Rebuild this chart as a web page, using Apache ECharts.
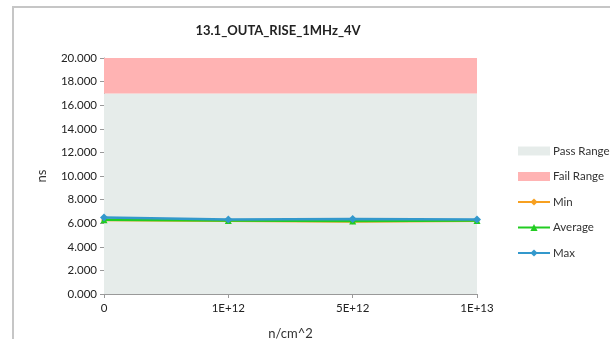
<!DOCTYPE html>
<html><head><meta charset="utf-8">
<script src="https://cdn.jsdelivr.net/npm/echarts@6/dist/echarts.min.js"></script>
<style>html,body{margin:0;padding:0;background:#fff}#c{width:610px;height:357px}</style>
</head><body><div id="c"></div>
<script>
const categories = ['0', '1E+12', '5E+12', '1E+13'];
const passRange = [17, 17, 17, 17];
const failRange = [3, 3, 3, 3];
const minVals = [6.27, 6.20, 6.15, 6.20];
const avgVals = [6.30, 6.22, 6.18, 6.22];
const maxVals = [6.48, 6.31, 6.35, 6.32];
const yTicks = { min: 0, max: 20, interval: 2 };

const font = 'Lato, "Liberation Sans", sans-serif';
const chart = echarts.init(document.getElementById('c'));
chart.setOption({
  animation: false,
  textStyle: { fontFamily: font },
  graphic: [
    { type: 'line', shape: { x1: 12, y1: 7, x2: 610, y2: 7 }, style: { stroke: '#c6c6c6', lineWidth: 2 } },
    { type: 'line', shape: { x1: 13, y1: 6, x2: 13, y2: 339 }, style: { stroke: '#c6c6c6', lineWidth: 2 } }
  ],
  title: {
    text: '13.1_OUTA_RISE_1MHz_4V', left: 273, top: 19, textAlign: 'center',
    textStyle: { fontSize: 13, fontWeight: 'bold', color: '#222', fontFamily: font }
  },
  legend: {
    orient: 'vertical', left: 512, top: 140, itemGap: 13.5, itemWidth: 32, itemHeight: 9,
    textStyle: { fontSize: 11.5, color: '#333', fontFamily: font, padding: [0, 0, 0, -2] },
    data: [
      { name: 'Pass Range', icon: 'rect' },
      { name: 'Fail Range', icon: 'rect' },
      { name: 'Min' }, { name: 'Average' }, { name: 'Max' }
    ]
  },
  grid: { left: 104, right: 133, top: 58, bottom: 63 },
  xAxis: {
    type: 'category', data: categories, boundaryGap: false,
    name: 'n/cm^2', nameLocation: 'middle', nameGap: 33,
    nameTextStyle: { fontSize: 13, color: '#333', fontFamily: font },
    axisLine: { lineStyle: { color: '#999' } },
    axisTick: { show: true, alignWithLabel: true, length: 4, lineStyle: { color: '#999' } },
    axisLabel: { fontSize: 11.5, color: '#222', margin: 8, fontFamily: font },
    splitLine: { show: false }
  },
  yAxis: {
    type: 'value', min: yTicks.min, max: yTicks.max, interval: yTicks.interval,
    name: 'ns', nameLocation: 'middle', nameGap: 56, nameRotate: 90,
    nameTextStyle: { fontSize: 13, color: '#333', fontFamily: font },
    axisLine: { show: true, lineStyle: { color: '#999' } },
    axisTick: { show: true, length: 4, lineStyle: { color: '#999' } },
    axisLabel: { fontSize: 11.5, color: '#222', margin: 7, fontFamily: font, formatter: v => v.toFixed(3) },
    splitLine: { show: false }
  },
  series: [
    { name: 'Pass Range', type: 'line', stack: 'band', data: passRange, symbol: 'none',
      lineStyle: { width: 0 }, itemStyle: { color: '#e6ecea' }, areaStyle: { color: '#e6ecea', opacity: 1 }, z: 1 },
    { name: 'Fail Range', type: 'line', stack: 'band', data: failRange, symbol: 'none',
      lineStyle: { width: 0 }, itemStyle: { color: '#ffb3b3' }, areaStyle: { color: '#ffb3b3', opacity: 1 }, z: 1 },
    { name: 'Min', type: 'line', data: minVals, symbol: 'diamond', symbolSize: 6,
      lineStyle: { width: 2.5, color: '#f7a020' }, itemStyle: { color: '#f7a020' }, z: 3 },
    { name: 'Average', type: 'line', data: avgVals, symbol: 'triangle', symbolSize: 7,
      lineStyle: { width: 2.5, color: '#22cc22' }, itemStyle: { color: '#22cc22' }, z: 4 },
    { name: 'Max', type: 'line', data: maxVals, symbol: 'diamond', symbolSize: 8,
      lineStyle: { width: 2.5, color: '#3398cc' }, itemStyle: { color: '#3398cc' }, z: 5 }
  ]
});
</script></body></html>
